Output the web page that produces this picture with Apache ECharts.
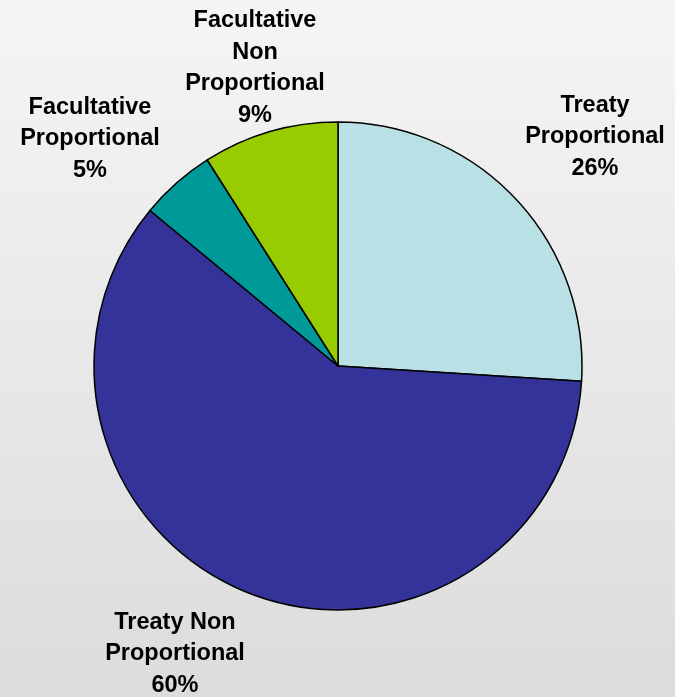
<!DOCTYPE html>
<html><head><meta charset="utf-8">
<script src="https://cdn.jsdelivr.net/npm/echarts@6/dist/echarts.min.js"></script>
<style>html,body{margin:0;padding:0;}#c{width:675px;height:697px;}</style>
</head><body><div id="c"></div>
<script>
const categories = ['Treaty\nProportional', 'Treaty Non\nProportional', 'Facultative\nProportional', 'Facultative\nNon\nProportional'];
const values = [26, 60, 5, 9];
const colors = ['#b9e1e5', '#333399', '#009999', '#99cc00'];
const labelPos = [[595, 137], [175, 654], [90, 139], [255, 68]];

const chart = echarts.init(document.getElementById('c'));
chart.setOption({
  backgroundColor: {type: 'linear', x: 0, y: 0, x2: 0, y2: 1, colorStops: [{offset: 0, color: '#f5f5f5'}, {offset: 1, color: '#dcdcdc'}]},
  animation: false,
  series: [{
    type: 'pie',
    center: [338, 366],
    radius: 244,
    startAngle: 90,
    clockwise: true,
    data: categories.map((c, i) => ({name: c, value: values[i], itemStyle: {color: colors[i]}})),
    itemStyle: {borderColor: '#000', borderWidth: 1.5},
    label: {
      show: true,
      position: 'outside',
      overflow: 'none',
      formatter: p => p.name + '\n' + p.value + '%',
      fontFamily: 'Liberation Sans, Arial, sans-serif',
      fontWeight: 'bold',
      fontSize: 23.5,
      lineHeight: 31.5,
      color: '#000',
      align: 'center'
    },
    labelLine: {show: false},
    labelLayout: p => ({x: labelPos[p.dataIndex][0], y: labelPos[p.dataIndex][1], align: 'center', verticalAlign: 'middle', width: 300})
  }]
});
</script></body></html>
